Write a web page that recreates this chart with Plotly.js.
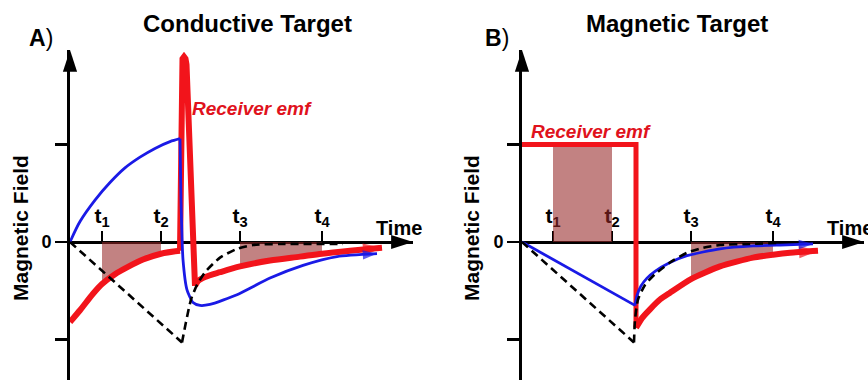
<!DOCTYPE html>
<html><head><meta charset="utf-8">
<script src="https://cdn.plot.ly/plotly-3.0.1.min.js"></script>
<style>html,body{margin:0;padding:0;background:#fff;overflow:hidden}#chart{width:868px;height:380px}</style>
</head><body><div id="chart"></div>
<script>
// ---------------- data (schematic units: time since turn-on, field normalised to 1) ----------------
const tickTimesA = [32, 91, 170, 252];
const tickTimesB = [31, 90, 169, 251];
const tickLabels = ['t<sub>1</sub>', 't<sub>2</sub>', 't<sub>3</sub>', 't<sub>4</sub>'];
const fieldTicks = [-1, 0, 1];
const fieldTickText = ['', '0', ''];

// Panel A – conductive target
const primaryRampA_x  = [0, 112];
const primaryRampA_y  = [0, -1.03];
const primaryDecayA_x = [112, 116, 121, 127, 135, 150, 167, 183, 210, 273];
const primaryDecayA_y = [-1.03, -0.82, -0.59, -0.44, -0.31, -0.16, -0.07, -0.03, -0.02, -0.02];
const blueRiseA_x = [0, 10, 25, 40, 55, 70, 85, 100, 110];
const blueRiseA_y = [0, 0.21, 0.43, 0.61, 0.76, 0.87, 0.96, 1.03, 1.06];
const blueFallA_x = [110, 111, 113, 117, 123, 130, 140, 167, 200, 233, 267, 307];
const blueFallA_y = [1.06, 0.43, -0.18, -0.49, -0.62, -0.65, -0.64, -0.54, -0.37, -0.24, -0.15, -0.12];
const redRiseA_x  = [0, 10, 23, 32, 45, 57, 73, 91, 110];
const redRiseA_y  = [-0.82, -0.70, -0.53, -0.43, -0.33, -0.26, -0.18, -0.12, -0.09];
const redSpikeA_x = [110, 111, 111.5, 112.5, 114, 115.5, 116.5, 117, 125];
const redSpikeA_y = [-0.09, 1.70, 1.82, 1.88, 1.90, 1.88, 1.82, 1.70, -0.45];
const redDecayA_x = [125, 128, 135, 150, 170, 200, 230, 252, 280, 312];
const redDecayA_y = [-0.45, -0.40, -0.36, -0.31, -0.25, -0.19, -0.15, -0.12, -0.09, -0.06];

// Panel B – magnetic target
const primaryRampB_x  = [0, 112];
const primaryRampB_y  = [0, -1.03];
const primaryDecayB_x = [112, 113, 116, 123, 133, 148, 165, 181, 198, 228, 255];
const primaryDecayB_y = [-1.03, -0.80, -0.59, -0.44, -0.33, -0.21, -0.11, -0.06, -0.03, -0.02, -0.01];
const blueRampB_x  = [0, 113];
const blueRampB_y  = [0, -0.65];
const blueDecayB_x = [113, 115, 119, 125, 133, 148, 165, 198, 231, 265, 291];
const blueDecayB_y = [-0.65, -0.55, -0.45, -0.37, -0.30, -0.21, -0.14, -0.07, -0.04, -0.03, -0.02];
const redStepB_x  = [0, 114, 114];
const redStepB_y  = [1.0, 1.0, -0.88];
const redDecayB_x = [114, 120, 128, 138, 148, 169, 198, 231, 251, 268, 296];
const redDecayB_y = [-0.88, -0.78, -0.69, -0.59, -0.52, -0.38, -0.25, -0.16, -0.13, -0.11, -0.09];

// ---------------- styling ----------------
const RED = '#f2141b', BLUE = '#1a1ae6', TXTRED = '#e0121c';
const SHADE = 'rgba(150,40,40,0.58)';
const FONT = 'Arial, "Liberation Sans", sans-serif';
const W = 868, H = 380;
const yRange = [-1.415, 1.969];
const xRangeA = [0, 343], xRangeB = [0, 342];

function idxRange(xs, lo, hi) { const out = []; xs.forEach((v, i) => { if (v >= lo && v <= hi) out.push(i); }); return out; }
function shade(xs, ys, lo, hi, xa, ya) {
  const ids = idxRange(xs, lo, hi);
  return { x: ids.map(i => xs[i]), y: ids.map(i => ys[i]), xaxis: xa, yaxis: ya, mode: 'lines',
    line: { width: 0, shape: 'spline' }, fill: 'tozeroy', fillcolor: SHADE, hoverinfo: 'skip' };
}
function curve(x, y, color, width, xa, ya, opts) {
  opts = opts || {};
  const t = { x, y, xaxis: xa, yaxis: ya, mode: 'lines', cliponaxis: false,
    line: { color, width, shape: opts.shape || 'spline', smoothing: opts.smoothing || 0.8, dash: opts.dash || 'solid' }, hoverinfo: 'skip' };
  if (opts.arrow) {
    t.mode = 'lines+markers';
    t.marker = { symbol: 'arrow', angleref: 'previous', color, size: x.map((_, i) => i === x.length - 1 ? opts.arrow : 0), line: { width: 0 } };
  }
  return t;
}
const DASH = '8px,5px';

const traces = [
  // Panel A shading
  shade(redRiseA_x, redRiseA_y, tickTimesA[0], tickTimesA[1], 'x', 'y'),
  shade(redDecayA_x, redDecayA_y, tickTimesA[2], tickTimesA[3], 'x', 'y'),
  // Panel A curves
  curve(redRiseA_x, redRiseA_y, RED, 6, 'x', 'y'),
  curve(redSpikeA_x, redSpikeA_y, RED, 6, 'x', 'y', { shape: 'linear' }),
  curve(redDecayA_x, redDecayA_y, RED, 6, 'x', 'y', { arrow: 20 }),
  curve(blueRiseA_x, blueRiseA_y, BLUE, 2.8, 'x', 'y'),
  curve(blueFallA_x, blueFallA_y, BLUE, 2.8, 'x', 'y', { arrow: 15, smoothing: 0.6 }),
  curve(primaryRampA_x, primaryRampA_y, 'black', 2.6, 'x', 'y', { shape: 'linear', dash: DASH }),
  curve(primaryDecayA_x, primaryDecayA_y, 'black', 2.6, 'x', 'y', { dash: DASH, smoothing: 0.6 }),
  // Panel B shading
  { x: [tickTimesB[0], tickTimesB[1]], y: [redStepB_y[0], redStepB_y[0]], xaxis: 'x2', yaxis: 'y2', mode: 'lines',
    line: { width: 0 }, fill: 'tozeroy', fillcolor: SHADE, hoverinfo: 'skip' },
  shade(redDecayB_x, redDecayB_y, tickTimesB[2], tickTimesB[3], 'x2', 'y2'),
  // Panel B curves
  curve(redStepB_x, redStepB_y, RED, 5, 'x2', 'y2', { shape: 'linear' }),
  curve(redDecayB_x, redDecayB_y, RED, 6, 'x2', 'y2', { arrow: 20, smoothing: 0.6 }),
  curve(blueRampB_x, blueRampB_y, BLUE, 2.8, 'x2', 'y2', { shape: 'linear' }),
  curve(blueDecayB_x, blueDecayB_y, BLUE, 2.8, 'x2', 'y2', { arrow: 15, smoothing: 0.6 }),
  curve(primaryRampB_x, primaryRampB_y, 'black', 2.6, 'x2', 'y2', { shape: 'linear', dash: DASH }),
  curve(primaryDecayB_x, primaryDecayB_y, 'black', 2.6, 'x2', 'y2', { dash: DASH, smoothing: 0.6 }),
  // axis arrowheads
  { x: [xRangeA[1]], y: [0], xaxis: 'x', yaxis: 'y', mode: 'markers', cliponaxis: false, hoverinfo: 'skip',
    marker: { symbol: 'arrow', angle: 90, size: 23, color: 'black', line: { width: 0 } } },
  { x: [0], y: [yRange[1]], xaxis: 'x', yaxis: 'y', mode: 'markers', cliponaxis: false, hoverinfo: 'skip',
    marker: { symbol: 'arrow', angle: 0, size: 23, color: 'black', line: { width: 0 } } },
  { x: [xRangeB[1]], y: [0], xaxis: 'x2', yaxis: 'y2', mode: 'markers', cliponaxis: false, hoverinfo: 'skip',
    marker: { symbol: 'arrow', angle: 90, size: 23, color: 'black', line: { width: 0 } } },
  { x: [0], y: [yRange[1]], xaxis: 'x2', yaxis: 'y2', mode: 'markers', cliponaxis: false, hoverinfo: 'skip',
    marker: { symbol: 'arrow', angle: 0, size: 23, color: 'black', line: { width: 0 } } }
];

const yDomain = [0, 330 / H];
const xPos = (H - 242) / H;
function xAxis(domain, range, ticks) {
  return { domain, range, anchor: 'free', position: xPos, side: 'top', showline: true, linecolor: 'black', linewidth: 3,
    ticks: 'outside', ticklen: 10, tickwidth: 2.5, tickcolor: 'black', tickvals: ticks, ticktext: tickLabels.map(s => '<b>' + s + '</b>'),
    tickfont: { family: FONT, size: 21, color: 'black' }, showgrid: false, zeroline: false, fixedrange: true, layer: 'below traces' };
}
function yAxis(anchor) {
  return { domain: yDomain, range: yRange, anchor, showline: true, linecolor: 'black', linewidth: 3,
    ticks: 'outside', ticklen: 12, tickwidth: 2.5, tickcolor: 'black', tickvals: fieldTicks, ticktext: fieldTickText.map(s => s ? '<b>' + s + '</b>' : ''),
    tickfont: { family: FONT, size: 18, color: 'black' }, showgrid: false, zeroline: false, fixedrange: true };
}
const P = (x, y) => ({ x: x / W, y: 1 - y / H, xref: 'paper', yref: 'paper', showarrow: false });
const ann = (x, y, text, size, xanchor, color, extra) => Object.assign(P(x, y), { text, xanchor: xanchor || 'center', yanchor: 'middle',
  font: { family: FONT, size, color: color || 'black' } }, extra || {});

const layout = {
  width: W, height: H, margin: { l: 0, r: 0, t: 0, b: 0 }, paper_bgcolor: 'white', plot_bgcolor: 'rgba(0,0,0,0)',
  showlegend: false,
  xaxis: xAxis([70 / W, 413 / W], xRangeA, tickTimesA),
  yaxis: yAxis('x'),
  xaxis2: xAxis([522 / W, 864 / W], xRangeB, tickTimesB),
  yaxis2: yAxis('x2'),
  annotations: [
    ann(247, 24, '<b>Conductive Target</b>', 24),
    ann(677, 24, '<b>Magnetic Target</b>', 24),
    ann(27, 38, '<b>A</b>)', 23, 'left'),
    ann(483, 38, '<b>B</b>)', 23, 'left'),
    ann(20, 228, '<b>Magnetic Field</b>', 21, 'center', 'black', { textangle: -90 }),
    ann(471, 228, '<b>Magnetic Field</b>', 21, 'center', 'black', { textangle: -90 }),
    ann(374, 228, '<b>Time</b>', 20, 'left'),
    ann(825, 228, '<b>Time</b>', 20, 'left'),
    ann(252, 108, '<b><i>Receiver emf</i></b>', 19, 'center', TXTRED),
    ann(591, 131, '<b><i>Receiver emf</i></b>', 19, 'center', TXTRED)
  ]
};
Plotly.newPlot('chart', traces, layout, { displayModeBar: false, staticPlot: true });
</script>
</body></html>
